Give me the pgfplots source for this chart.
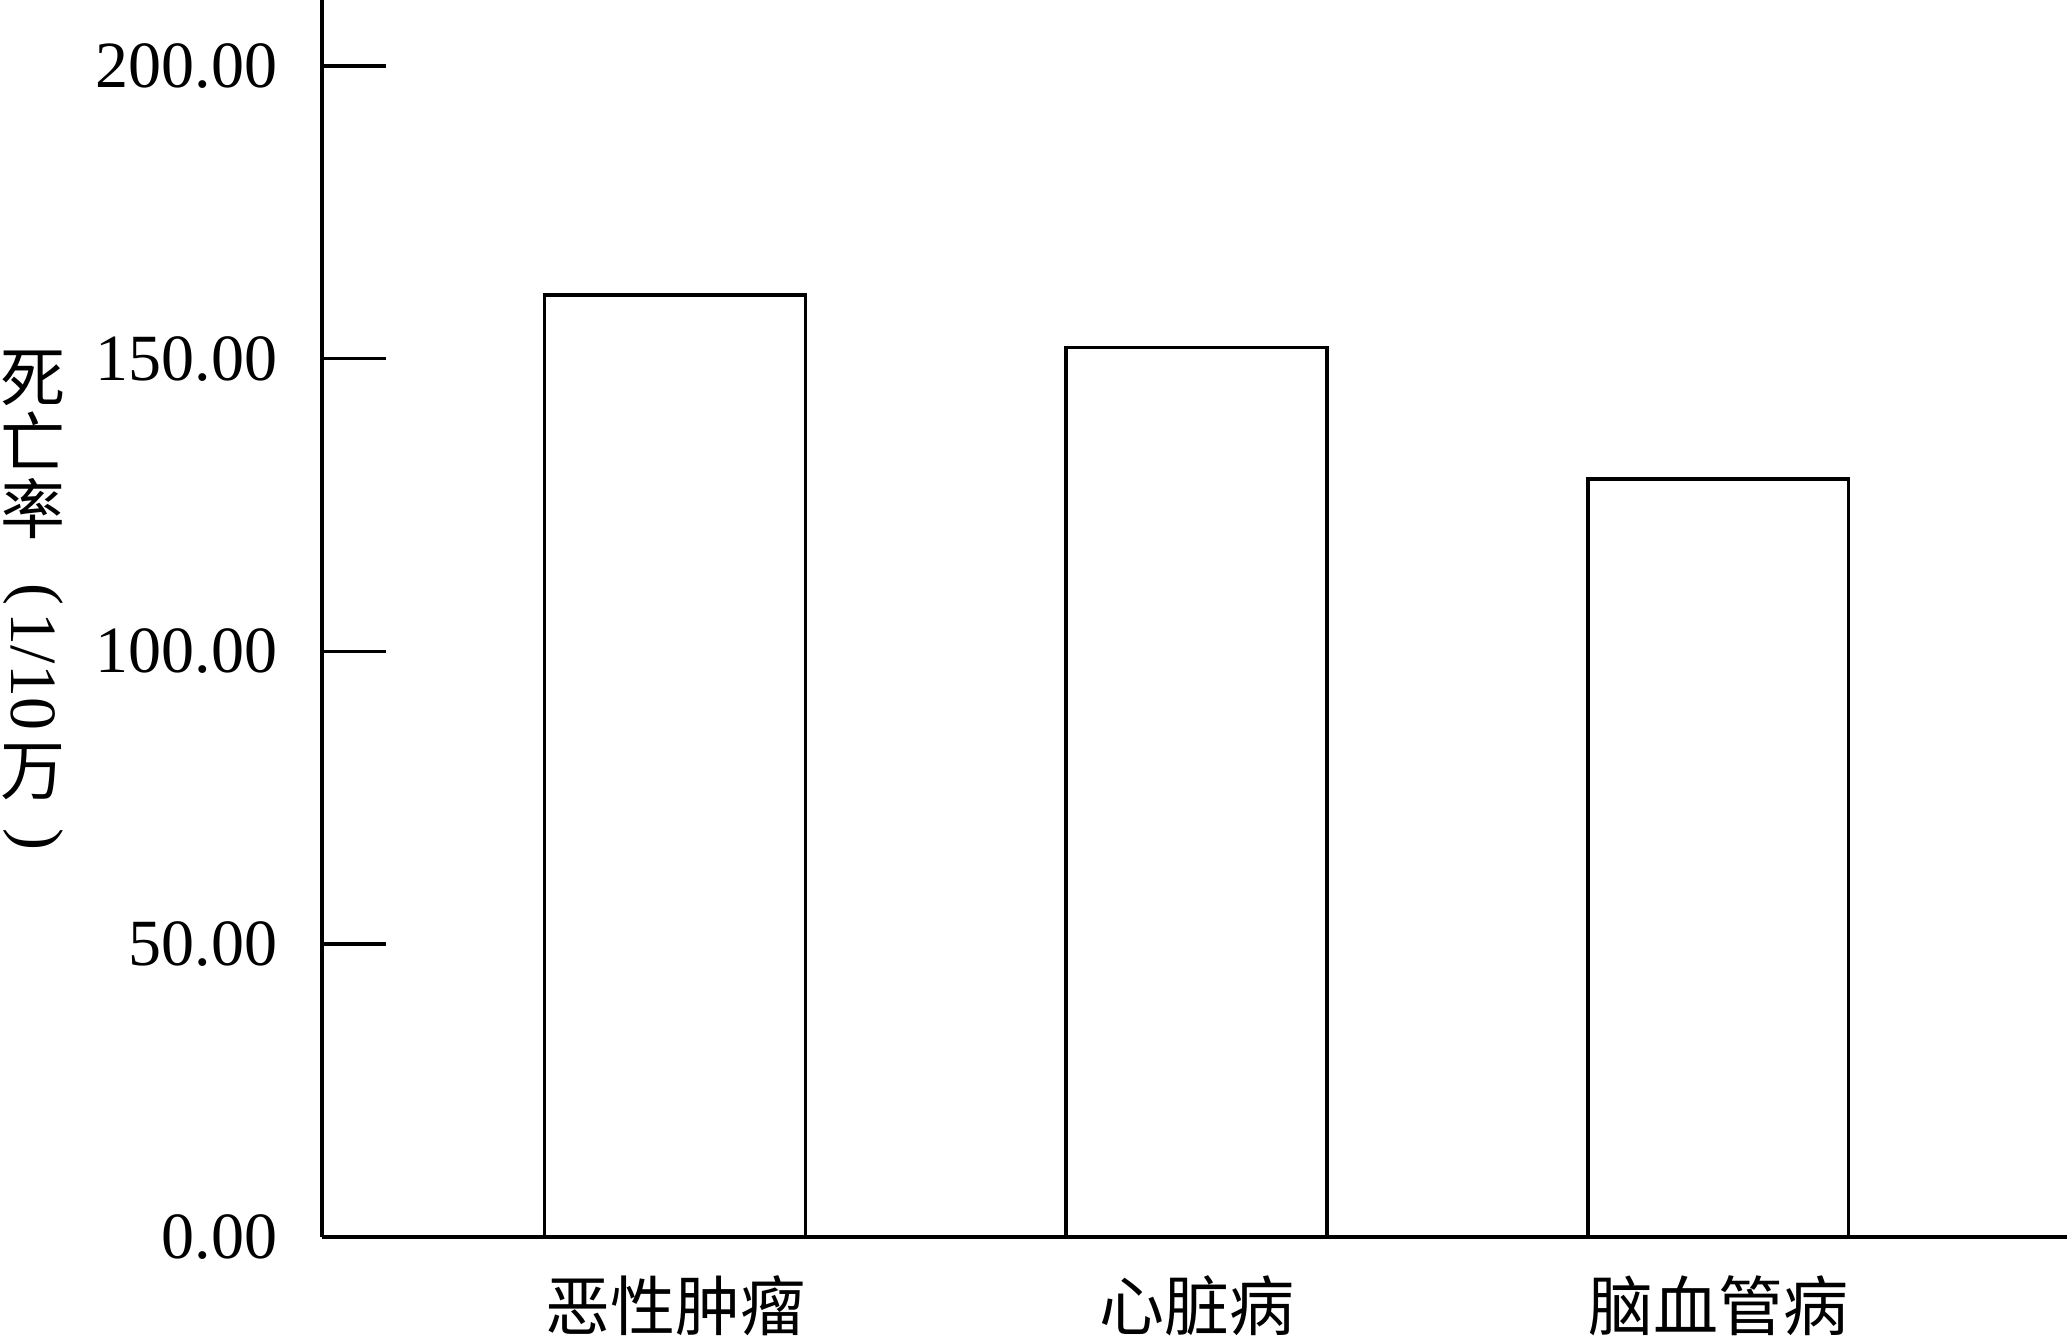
\documentclass[border=0pt]{standalone}
\usepackage{fontspec}
\setmainfont{Liberation Serif}
\newfontfamily\cjk{Noto Sans CJK SC}
\usepackage{graphicx}
\usepackage{pgfplots}
\pgfplotsset{compat=1.18}
\begin{document}
\begin{tikzpicture}
\begin{axis}[
  at={(0pt,0pt)}, anchor=south west,
  scale only axis, width=436.25pt, height=309.175pt,
  xmin=-0.677, xmax=2.669, ymin=0, ymax=211.3,
  axis x line*=bottom, axis y line*=left,
  axis line style={line width=1pt, -},
  ytick={0,50,100,150,200},
  tick align=inside,
  major tick length=16pt,
  ytick style={line width=0.85pt, black},
  xtick={0,1,2}, xticklabels={恶性肿瘤,心脏病,脑血管病},
  xtick style={draw=none},
  xticklabel style={font=\cjk\fontsize{16.25}{18}\selectfont, anchor=north, inner sep=0pt, yshift=-9.6pt},
  yticklabel style={font=\fontsize{16.5}{19}\selectfont, anchor=east, inner sep=0pt, xshift=-11pt},
  /pgf/number format/.cd, fixed, fixed zerofill, precision=2, assume math mode=true,
]
\addplot[ybar, bar width=0.5, fill=white, draw=black, line width=0.9pt] coordinates {(0,160.9) (1,151.9) (2,129.5)};
\end{axis}
\begin{scope}[every node/.style={inner sep=0pt}]
\node[font=\cjk\fontsize{16.25}{18}\selectfont] at (-72.25pt,214.55pt) {死};
\node[font=\cjk\fontsize{16.25}{18}\selectfont] at (-72.25pt,199.3pt) {亡};
\node[font=\cjk\fontsize{16.25}{18}\selectfont] at (-72.25pt,182.05pt) {率};
\node[font=\fontsize{16.5}{19}\selectfont] at (-72.25pt,160.55pt) {\rotatebox{-90}{(}};
\node[font=\fontsize{16.5}{19}\selectfont] at (-72.25pt,141.3pt) {\rotatebox{-90}{1/10}};
\node[font=\cjk\fontsize{16.25}{18}\selectfont] at (-72.25pt,116.05pt) {万};
\node[font=\fontsize{16.5}{19}\selectfont] at (-72.25pt,99.3pt) {\rotatebox{-90}{)}};
\end{scope}
\pgfresetboundingbox
\path[use as bounding box] (-80.5pt,-25.075pt) rectangle (436.25pt,309.175pt);
\end{tikzpicture}
\end{document}
